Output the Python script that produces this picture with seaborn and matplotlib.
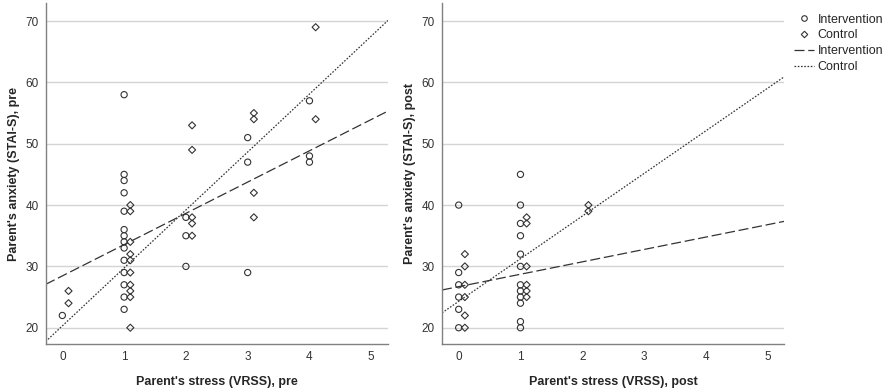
import matplotlib
matplotlib.use("Agg")
import matplotlib.pyplot as plt
import seaborn as sns
import numpy as np
from matplotlib.lines import Line2D

# Parent's stress (VRSS) and anxiety (STAI-S)
int_pre_x = [0, 1, 1, 1, 1, 1, 1, 1, 1, 1, 1, 1, 1, 1, 1, 2, 2, 2, 3, 3, 3, 4, 4, 4]
int_pre_y = [22, 58, 45, 44, 42, 39, 36, 35, 34, 33, 31, 29, 27, 25, 23, 38, 35, 30, 51, 47, 29, 57, 48, 47]
ctl_pre_x = [0, 0, 1, 1, 1, 1, 1, 1, 1, 1, 1, 1, 2, 2, 2, 2, 2, 3, 3, 3, 3, 4, 4]
ctl_pre_y = [26, 24, 40, 39, 34, 32, 31, 29, 27, 26, 25, 20, 53, 49, 38, 37, 35, 55, 54, 42, 38, 69, 54]

int_post_x = [0, 0, 0, 0, 0, 0, 1, 1, 1, 1, 1, 1, 1, 1, 1, 1, 1, 1]
int_post_y = [40, 29, 27, 25, 23, 20, 45, 40, 37, 35, 32, 30, 27, 26, 25, 24, 21, 20]
ctl_post_x = [0, 0, 0, 0, 0, 0, 1, 1, 1, 1, 1, 1, 2, 2]
ctl_post_y = [32, 30, 27, 25, 22, 20, 38, 37, 30, 27, 26, 25, 40, 39]

# fitted lines (intercept, slope) for Intervention / Control
fit_pre_int = (28.45, 5.10)
fit_pre_ctl = (20.3, 9.45)
fit_post_int = (26.7, 2.02)
fit_post_ctl = (24.3, 6.95)

sns.set_style("white")
plt.rcParams["font.family"] = ["Liberation Sans", "DejaVu Sans"]

edge = "#333333"
fig, axes = plt.subplots(1, 2, figsize=(8.9, 3.92), dpi=100)
fig.subplots_adjust(left=0.0513, right=0.8812, bottom=0.1217, top=0.9916, wspace=0.158)

panels = [
    (axes[0], int_pre_x, int_pre_y, ctl_pre_x, ctl_pre_y, fit_pre_int, fit_pre_ctl, "pre"),
    (axes[1], int_post_x, int_post_y, ctl_post_x, ctl_post_y, fit_post_int, fit_post_ctl, "post"),
]

for ax, ix, iy, cx, cy, fi, fc, tag in panels:
    ax.set_axisbelow(True)
    ax.yaxis.grid(True, color="#d4d4d4", linewidth=1)
    sns.scatterplot(x=ix, y=iy, ax=ax, marker="o", s=20, facecolors="none",
                    edgecolor=edge, linewidth=0.8, zorder=3)
    # control points are drawn slightly dodged to the right, as in the original
    sns.scatterplot(x=np.array(cx) + 0.1, y=cy, ax=ax, marker="D", s=13, facecolors="none",
                    edgecolor=edge, linewidth=0.8, zorder=3)
    ax.axline((0, fi[0]), slope=fi[1], color=edge, linewidth=0.9, dashes=(8, 3))
    ax.axline((0, fc[0]), slope=fc[1], color=edge, linewidth=0.9, dashes=(1.3, 1.3))
    ax.set_xlim(-0.27, 5.27)
    ax.set_ylim(17.3, 72.9)
    ax.set_xticks([0, 1, 2, 3, 4, 5])
    ax.set_yticks([20, 30, 40, 50, 60, 70])
    ax.tick_params(length=0, labelsize=8.5, labelcolor="#333333", pad=5)
    for s in ["top", "right"]:
        ax.spines[s].set_visible(False)
    for s in ["left", "bottom"]:
        ax.spines[s].set_color("#808080")
        ax.spines[s].set_linewidth(1)
    ax.set_xlabel(f"Parent's stress (VRSS), {tag}", fontsize=9, fontweight="bold", labelpad=9)
    ax.set_ylabel(f"Parent's anxiety (STAI-S), {tag}", fontsize=9, fontweight="bold", labelpad=4)

handles = [
    Line2D([], [], marker="o", linestyle="none", markersize=4, markerfacecolor="none",
           markeredgecolor=edge, markeredgewidth=0.8),
    Line2D([], [], marker="D", linestyle="none", markersize=3.3, markerfacecolor="none",
           markeredgecolor=edge, markeredgewidth=0.8),
    Line2D([], [], color=edge, linewidth=0.9, dashes=(8, 3)),
    Line2D([], [], color=edge, linewidth=0.9, dashes=(1.3, 1.3)),
]
fig.legend(handles, ["Intervention", "Control", "Intervention", "Control"],
           loc="upper left", bbox_to_anchor=(0.892, 0.965), frameon=False,
           fontsize=9, handlelength=1.6, handletextpad=0.3, labelspacing=0.3,
           borderaxespad=0, borderpad=0)

plt.savefig("out.png", dpi=100)
